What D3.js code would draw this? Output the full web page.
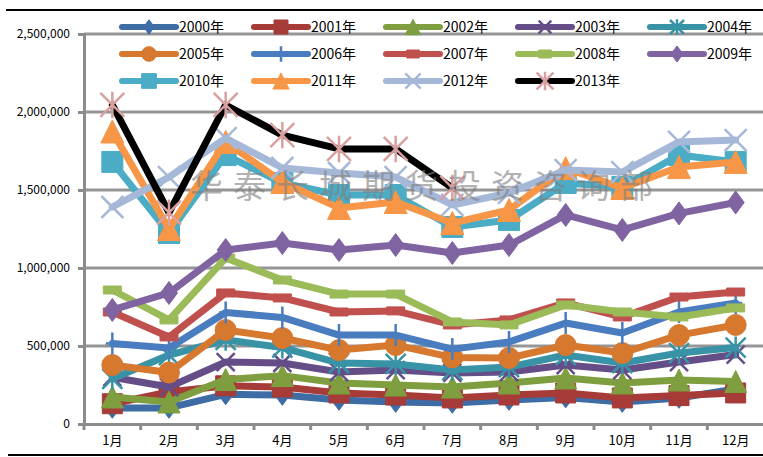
<!DOCTYPE html>
<html>
<head>
<meta charset="utf-8">
<script src="https://cdn.jsdelivr.net/npm/d3@7"></script>
<style>
  body { margin: 0; background: #fff; }
  svg { display: block; }
</style>
</head>
<body>
<div id="chart"></div>
<script>
// data
const months = ["1月", "2月", "3月", "4月", "5月", "6月", "7月", "8月", "9月", "10月", "11月", "12月"];
const years = ["2000年", "2001年", "2002年", "2003年", "2004年", "2005年", "2006年",
               "2007年", "2008年", "2009年", "2010年", "2011年", "2012年", "2013年"];
const yTicks = [0, 500000, 1000000, 1500000, 2000000, 2500000];

const v2000 = [103000, 103000, 190000, 186000, 154000, 141000, 135000, 154000, 170000, 141000, 167000, 225000];
const v2001 = [130000, 205000, 245000, 237000, 199000, 186000, 167000, 186000, 199000, 167000, 182000, 199000];
const v2002 = [173000, 141000, 285000, 310000, 263000, 250000, 237000, 263000, 295000, 263000, 282000, 272000];
const v2003 = [300000, 237000, 397000, 391000, 333000, 346000, 327000, 333000, 378000, 346000, 397000, 445000];
const v2004 = [290000, 442000, 540000, 490000, 391000, 385000, 346000, 365000, 442000, 391000, 455000, 490000];
const v2005 = [378000, 330000, 603000, 551000, 474000, 506000, 427000, 423000, 506000, 455000, 570000, 635000];
const v2006 = [516000, 487000, 715000, 683000, 570000, 570000, 480000, 526000, 647000, 583000, 718000, 776000];
const v2007 = [718000, 558000, 840000, 808000, 718000, 725000, 635000, 667000, 776000, 686000, 814000, 846000];
const v2008 = [859000, 667000, 1064000, 923000, 833000, 833000, 654000, 635000, 763000, 718000, 686000, 744000];
const v2009 = [731000, 840000, 1115000, 1160000, 1115000, 1147000, 1096000, 1147000, 1340000, 1244000, 1350000, 1420000];
const v2010 = [1680000, 1224000, 1724000, 1545000, 1468000, 1468000, 1263000, 1308000, 1545000, 1519000, 1724000, 1680000];
const v2011 = [1875000, 1250000, 1808000, 1551000, 1385000, 1423000, 1288000, 1372000, 1640000, 1513000, 1647000, 1680000];
const v2012 = [1391000, 1583000, 1833000, 1641000, 1609000, 1583000, 1404000, 1481000, 1628000, 1615000, 1808000, 1820000];
const v2013 = [2045000, 1355000, 2045000, 1852000, 1763000, 1763000, 1513000];

const allValues = [v2000, v2001, v2002, v2003, v2004, v2005, v2006,
                   v2007, v2008, v2009, v2010, v2011, v2012, v2013];

// styles
const lineColors = ["#3E6DA6", "#A63B38", "#7E9E3F", "#654E87", "#3893A7", "#D7782F", "#4A7DBF",
                    "#C0504D", "#9BBB59", "#8064A2", "#4BACC6", "#F79646", "#A6B8D8", "#000000"];
const markerColors = lineColors.slice(0, 13).concat(["#D9A0A0"]);
const markerTypes = ["diamond", "square", "triangle", "x", "asterisk", "circle", "plus",
                     "dash", "dash", "diamond", "square", "triangle", "x", "asterisk"];
const markerSizes = [9, 10, 11, 9, 10, 10.5, 11, 9, 9, 10, 10.5, 11.5, 11, 12];

const width = 763, height = 457;
const plotLeft = 84, plotRight = 764, plotTop = 34, plotBottom = 424;

const svg = d3.select("#chart")
    .append("svg")
    .attr("width", width)
    .attr("height", height);

// Scales
const xScale = d3.scaleBand()
    .domain(months)
    .range([plotLeft, plotRight]);

const yScale = d3.scaleLinear()
    .domain([0, 2500000])
    .range([plotBottom, plotTop]);

const xPos = m => xScale(m) + xScale.bandwidth() / 2;

// black rules top and bottom
svg.append("line").attr("x1", 6).attr("x2", width).attr("y1", 10).attr("y2", 10)
    .attr("stroke", "#000").attr("stroke-width", 2);
svg.append("line").attr("x1", 8).attr("x2", width).attr("y1", 455).attr("y2", 455)
    .attr("stroke", "#000").attr("stroke-width", 2);

// gridlines
svg.append("g")
    .selectAll("line")
    .data(yTicks.slice(1))
    .enter()
    .append("line")
    .attr("x1", plotLeft)
    .attr("x2", plotRight)
    .attr("y1", d => yScale(d))
    .attr("y2", d => yScale(d))
    .attr("stroke", "#959595")
    .attr("stroke-width", 3);

// Axis
const yAxis = d3.axisLeft(yScale)
    .tickValues(yTicks)
    .tickFormat(d3.format(","))
    .tickSize(6)
    .tickPadding(8);

const yG = svg.append("g")
    .attr("transform", "translate(" + plotLeft + ",0)")
    .call(yAxis);
yG.select(".domain").attr("stroke", "#8c8c8c").attr("stroke-width", 3);
yG.selectAll(".tick line").attr("stroke", "#8c8c8c").attr("stroke-width", 3);
yG.selectAll("text")
    .attr("fill", "#000")
    .style("font-family", "'Noto Sans CJK SC', 'Noto Sans', sans-serif")
    .style("font-size", "12px");

const xAxis = d3.axisBottom(xScale)
    .tickSize(0)
    .tickPadding(12);

const xG = svg.append("g")
    .attr("transform", "translate(0," + plotBottom + ")")
    .call(xAxis);
xG.select(".domain").attr("stroke", "#8c8c8c").attr("stroke-width", 3);
xG.selectAll("text")
    .attr("fill", "#000")
    .style("font-family", "'Noto Sans CJK SC', sans-serif")
    .style("font-size", "13px");

// category dividers below the axis
svg.append("g")
    .selectAll("line")
    .data(months)
    .enter()
    .append("line")
    .attr("x1", d => xScale(d))
    .attr("x2", d => xScale(d))
    .attr("y1", plotBottom)
    .attr("y2", plotBottom + 6)
    .attr("stroke", "#8c8c8c")
    .attr("stroke-width", 3);

// marker shapes
function markerPath(type, s) {
    if (type === "diamond") return "M0," + (-s * 1.15) + "L" + (s * 0.85) + ",0L0," + (s * 1.15) + "L" + (-s * 0.85) + ",0Z";
    if (type === "square") return "M" + (-s) + "," + (-s) + "h" + (2 * s) + "v" + (2 * s) + "h" + (-2 * s) + "Z";
    if (type === "triangle") return "M0," + (-s) + "L" + s + "," + s + "L" + (-s) + "," + s + "Z";
    if (type === "circle") return d3.symbol(d3.symbolCircle, Math.PI * s * s)();
    if (type === "dash") return "M" + (-s) + ",-4h" + (2 * s) + "v8h" + (-2 * s) + "Z";
    if (type === "x") return "M" + (-s) + "," + (-s) + "L" + s + "," + s + "M" + s + "," + (-s) + "L" + (-s) + "," + s;
    if (type === "asterisk") return "M" + (-s) + "," + (-s) + "L" + s + "," + s + "M" + s + "," + (-s) + "L" + (-s) + "," + s + "M0," + (-s * 1.1) + "V" + (s * 1.1);
    if (type === "plus") return "M0," + (-s) + "V" + s + "M" + (-s * 0.6) + ",0H" + (s * 0.6);
}
const strokeOnly = t => t === "x" || t === "asterisk" || t === "plus";

function drawMarker(sel, i, scale) {
    const t = markerTypes[i];
    sel.attr("d", markerPath(t, markerSizes[i] * scale))
        .attr("fill", strokeOnly(t) ? "none" : markerColors[i])
        .attr("stroke", markerColors[i])
        .attr("stroke-width", strokeOnly(t) ? 2.5 : 1)
        .attr("stroke-linejoin", "round");
}

// Series
const line = d3.line()
    .x((d, i) => xPos(months[i]))
    .y(d => yScale(d));

allValues.forEach((vals, i) => {
    const g = svg.append("g").attr("class", "series");
    g.append("path")
        .attr("d", line(vals))
        .attr("fill", "none")
        .attr("stroke", lineColors[i])
        .attr("stroke-width", 7)
        .attr("stroke-linejoin", "round")
        .attr("stroke-linecap", "round");
    g.selectAll("path.m")
        .data(vals)
        .enter()
        .append("path")
        .attr("class", "m")
        .attr("transform", (d, j) => "translate(" + xPos(months[j]) + "," + yScale(d) + ")")
        .call(drawMarker, i, 1);
});

// watermark
svg.append("text")
    .attr("x", 190)
    .attr("y", 184)
    .attr("dominant-baseline", "central")
    .attr("fill", "#7f7f7f")
    .attr("opacity", 0.6)
    .style("font-family", "'Noto Sans CJK SC', sans-serif")
    .style("font-size", "33px")
    .style("letter-spacing", "10px")
    .text("华泰长城期货投资咨询部");

// Legend
const legend = svg.append("g")
    .selectAll("g")
    .data(years)
    .enter()
    .append("g")
    .attr("transform", (d, i) => "translate(" + (122 + (i % 5) * 132) + "," + (27 + Math.floor(i / 5) * 27) + ")");

legend.append("line")
    .attr("x1", 0)
    .attr("x2", 54)
    .attr("stroke", (d, i) => lineColors[i])
    .attr("stroke-width", 6)
    .attr("stroke-linecap", "round");

legend.append("path")
    .attr("transform", "translate(27,0)")
    .each(function (d, i) { d3.select(this).call(drawMarker, i, 0.7); });

legend.append("text")
    .attr("x", 57)
    .attr("dy", "0.35em")
    .attr("fill", "#000")
    .style("font-family", "'Noto Sans CJK SC', sans-serif")
    .style("font-size", "14px")
    .text(d => d);
</script>
</body>
</html>
